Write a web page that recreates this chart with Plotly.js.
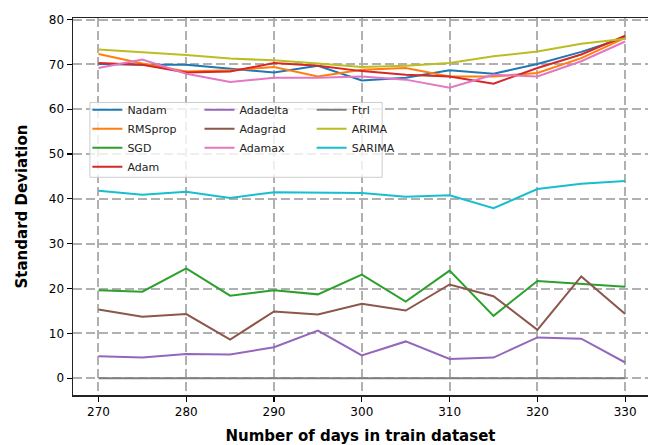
<!DOCTYPE html>
<html>
<head>
<meta charset="utf-8">
<script src="https://cdn.plot.ly/plotly-3.0.1.min.js"></script>
<style>html,body{margin:0;padding:0;background:#fff;}#chart{width:648px;height:445px;}</style>
</head>
<body>
<div id="chart"></div>
<script>
const days = [270, 275, 280, 285, 290, 295, 300, 305, 310, 315, 320, 325, 330];
const nadam    = [70.1, 69.9, 69.9, 69.0, 68.2, 69.7, 66.4, 67.0, 68.7, 67.9, 70.1, 72.8, 76.0];
const rmsprop  = [72.3, 70.2, 68.4, 68.7, 69.4, 67.3, 68.8, 69.2, 67.3, 67.3, 68.1, 71.4, 75.9];
const sgd      = [19.6, 19.3, 24.5, 18.4, 19.6, 18.7, 23.1, 17.1, 24.0, 13.9, 21.7, 21.0, 20.4];
const adam     = [70.3, 69.9, 68.2, 68.4, 70.3, 69.7, 68.5, 67.7, 67.3, 65.7, 69.2, 72.2, 76.4];
const adadelta = [4.9, 4.6, 5.4, 5.3, 6.9, 10.6, 5.1, 8.2, 4.3, 4.6, 9.1, 8.8, 3.5];
const adagrad  = [15.3, 13.7, 14.3, 8.6, 14.9, 14.2, 16.6, 15.1, 20.9, 18.3, 10.8, 22.7, 14.3];
const adamax   = [69.2, 71.1, 67.9, 66.1, 67.0, 67.0, 67.3, 66.6, 64.8, 67.7, 67.3, 70.7, 75.1];
const ftrl     = [0, 0, 0, 0, 0, 0, 0, 0, 0, 0, 0, 0, 0];
const arima    = [73.3, 72.7, 72.1, 71.3, 70.9, 70.2, 69.4, 69.7, 70.3, 71.8, 72.9, 74.6, 75.7];
const sarima   = [41.8, 40.9, 41.6, 40.2, 41.5, 41.4, 41.3, 40.5, 40.8, 37.9, 42.2, 43.4, 44.0];
const xTicks = [270, 280, 290, 300, 310, 320, 330];
const yTicks = [0, 10, 20, 30, 40, 50, 60, 70, 80];

const series = [
  {name: 'Nadam', y: nadam, color: '#1f77b4', legend: 'legend'},
  {name: 'RMSprop', y: rmsprop, color: '#ff7f0e', legend: 'legend'},
  {name: 'SGD', y: sgd, color: '#2ca02c', legend: 'legend'},
  {name: 'Adam', y: adam, color: '#d62728', legend: 'legend'},
  {name: 'Adadelta', y: adadelta, color: '#9467bd', legend: 'legend2'},
  {name: 'Adagrad', y: adagrad, color: '#8c564b', legend: 'legend2'},
  {name: 'Adamax', y: adamax, color: '#e377c2', legend: 'legend2'},
  {name: 'Ftrl', y: ftrl, color: '#7f7f7f', legend: 'legend3'},
  {name: 'ARIMA', y: arima, color: '#bcbd22', legend: 'legend3'},
  {name: 'SARIMA', y: sarima, color: '#17becf', legend: 'legend3'}
];

const traces = series.map(s => ({
  x: days, y: s.y, name: s.name, type: 'scatter', mode: 'lines',
  line: {color: s.color, width: 2}, legend: s.legend
}));

const legFont = {family: 'DejaVu Sans', size: 11, color: '#222'};
const legBase = {font: legFont, bgcolor: 'rgba(0,0,0,0)', borderwidth: 0,
  yanchor: 'top', xanchor: 'left', tracegroupgap: 0};

const layout = {
  width: 648, height: 445,
  margin: {l: 73, r: 0, t: 18, b: 50},
  paper_bgcolor: '#fff', plot_bgcolor: '#fff',
  font: {family: 'DejaVu Sans', size: 12, color: '#000'},
  xaxis: {
    range: [267.1, 332.6], tickvals: xTicks, ticks: 'outside', ticklen: 5, tickwidth: 1.2,
    tickcolor: '#000', showline: true, linecolor: '#222', linewidth: 1.5, mirror: true,
    showgrid: true, gridcolor: '#b0b0b0', gridwidth: 2, griddash: '9px,4px', zeroline: false,
    tickfont: {family: 'DejaVu Sans', size: 12, color: '#000'},
    title: {text: '<b>Number of days in train dataset</b>', font: {family: 'DejaVu Sans', size: 15, color: '#000'}, standoff: 13}
  },
  yaxis: {
    range: [-3.75, 80.35], tickvals: yTicks, ticks: 'outside', ticklen: 5, tickwidth: 1.2,
    tickcolor: '#000', showline: true, linecolor: '#222', linewidth: 1.5,
    showgrid: true, gridcolor: '#b0b0b0', gridwidth: 2, griddash: '9px,4px', zeroline: false,
    tickfont: {family: 'DejaVu Sans', size: 12, color: '#000'},
    title: {text: '<b>Standard Deviation</b>', font: {family: 'DejaVu Sans', size: 15, color: '#000'}, standoff: 17}
  },
  legend: Object.assign({}, legBase, {x: 0.025, y: 0.795}),
  legend2: Object.assign({}, legBase, {x: 0.22, y: 0.795}),
  legend3: Object.assign({}, legBase, {x: 0.415, y: 0.795}),
  shapes: [{
    type: 'rect', xref: 'paper', yref: 'paper', layer: 'above',
    x0: 0.0294, x1: 0.5377, y0: 0.5775, y1: 0.776,
    fillcolor: 'rgba(255,255,255,0.8)', line: {color: '#cccccc', width: 1}
  }],
  showlegend: true
};

Plotly.newPlot('chart', traces, layout, {displayModeBar: false, staticPlot: true});
</script>
</body>
</html>
